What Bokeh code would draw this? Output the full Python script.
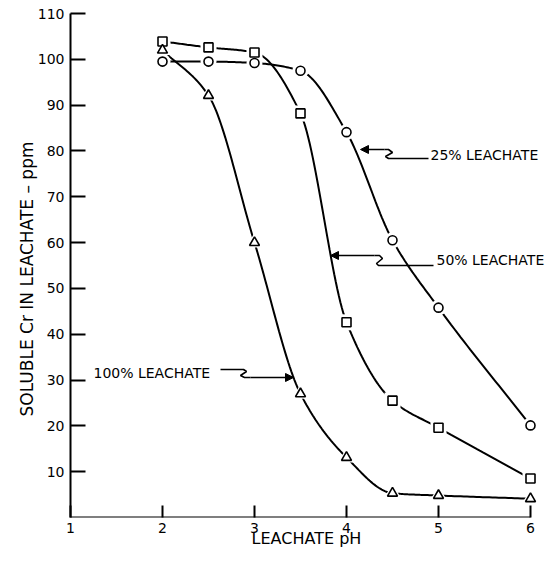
import numpy as np
from bokeh.plotting import figure
from bokeh.models import Range1d, Label, Arrow, NormalHead, FixedTicker
from bokeh.embed import file_html
from bokeh.resources import INLINE

# ---- data ----
ph = [2, 2.5, 3, 3.5, 4, 4.5, 5, 6]
cr_25 = [99.5, 99.5, 99.2, 97.5, 84.1, 60.5, 45.8, 20.1]
cr_50 = [103.9, 102.6, 101.5, 88.2, 42.6, 25.5, 19.6, 8.5]
cr_100 = [102.0, 92.1, 60.0, 27.0, 13.1, 5.3, 4.8, 4.1]
x_ticks = [1, 2, 3, 4, 5, 6]
y_ticks = [10, 20, 30, 40, 50, 60, 70, 80, 90, 100, 110]

FONT = "DejaVu Sans"
W, H = 547, 551

# pixel-to-data helpers for annotation placement (pixels of the reference picture)
def X(px):
    return 1 + (px - 70) / 92.0

def Y(py):
    return (517 - py) / 4.5818


def pchip(x, y, n=30):
    x = np.asarray(x, float)
    y = np.asarray(y, float)
    h = np.diff(x)
    d = np.diff(y) / h
    m = np.zeros_like(y)
    m[0] = d[0]
    m[-1] = d[-1]
    for k in range(1, len(x) - 1):
        if d[k - 1] * d[k] <= 0:
            m[k] = 0.0
        else:
            w1 = 2 * h[k] + h[k - 1]
            w2 = h[k] + 2 * h[k - 1]
            m[k] = (w1 + w2) / (w1 / d[k - 1] + w2 / d[k])
    xs, ys = [], []
    for k in range(len(x) - 1):
        t = np.linspace(0, 1, n, endpoint=(k == len(x) - 2))
        h00 = 2 * t**3 - 3 * t**2 + 1
        h10 = t**3 - 2 * t**2 + t
        h01 = -2 * t**3 + 3 * t**2
        h11 = t**3 - t**2
        xs.extend(x[k] + t * h[k])
        ys.extend(h00 * y[k] + h10 * h[k] * m[k] + h01 * y[k + 1] + h11 * h[k] * m[k + 1])
    return xs, ys


p = figure(
    width=W, height=H,
    x_range=Range1d(1, X(W)), y_range=Range1d(0, 110),
    min_border_left=70, min_border_right=0, min_border_top=13, min_border_bottom=34,
    output_backend="svg", toolbar_location=None,
)
p.outline_line_color = None
p.grid.visible = False
p.background_fill_color = "white"

# axes
p.xaxis.ticker = FixedTicker(ticks=x_ticks)
p.yaxis.ticker = FixedTicker(ticks=y_ticks)
for ax in (p.xaxis, p.yaxis):
    ax.major_tick_out = 0
    ax.minor_tick_in = 0
    ax.minor_tick_out = 0
    ax.major_tick_line_width = 2
    ax.major_tick_line_color = "black"
    ax.major_label_text_font = FONT
    ax.major_label_text_font_size = "14px"
    ax.major_label_text_color = "black"
    ax.axis_label_text_font = FONT
    ax.axis_label_text_font_style = "normal"
    ax.axis_label_text_color = "black"
p.yaxis.major_tick_in = 15
p.xaxis.major_tick_in = 12
p.yaxis.axis_line_width = 2
p.yaxis.axis_line_color = "black"
p.xaxis.axis_line_color = None
p.yaxis.major_label_standoff = 6
p.xaxis.major_label_standoff = 5

p.yaxis.axis_label = "SOLUBLE  Cr  IN  LEACHATE  \u2013  ppm"
p.yaxis.axis_label_text_font_size = "17px"
p.yaxis.axis_label_standoff = -2
p.xaxis.axis_label = "LEACHATE  pH"
p.xaxis.axis_label_text_font_size = "16px"
p.xaxis.axis_label_standoff = -7

# x-axis line from first to last tick
p.line([x_ticks[0], x_ticks[-1]], [0, 0], line_color="black", line_width=2)

# curves
series = [(cr_25, "circle", 9), (cr_50, "square", 9), (cr_100, "triangle", 10)]
for ys, mk, sz in series:
    cx, cy = pchip(ph, ys)
    p.line(cx, cy, line_color="black", line_width=2)
for ys, mk, sz in series:
    p.scatter(ph, ys, marker=mk, size=sz + 7, fill_color="white", line_color=None)
for ys, mk, sz in series:
    p.scatter(ph, ys, marker=mk, size=sz, fill_color="white", line_color="black", line_width=1.6)

# annotations with squiggly leaders
def leader(pts, tip):
    xs = [X(a) for a, b in pts]
    ys = [Y(b) for a, b in pts]
    p.line(xs, ys, line_color="black", line_width=1.6)
    p.add_layout(Arrow(end=NormalHead(size=8, fill_color="black", line_color="black", line_width=1),
                       x_start=xs[-1], y_start=ys[-1], x_end=X(tip[0]), y_end=Y(tip[1]),
                       line_color="black", line_width=1.6))

leader([(428, 158), (388, 158), (385, 156), (392, 152), (388, 149), (384, 149)], (360, 149))
leader([(433, 265), (378, 265), (376, 263), (382, 258), (379, 255), (374, 255)], (330, 255))
leader([(220, 369), (243, 369), (246, 371), (240, 375), (244, 377), (250, 377)], (293, 377))

ann = [("25% LEACHATE", 430, 155), ("50% LEACHATE", 436, 260), ("100% LEACHATE", 93, 373)]
for txt, px, py in ann:
    p.add_layout(Label(x=X(px), y=Y(py), text=txt, text_font=FONT, text_font_size="14px",
                       text_align="left", text_baseline="middle", text_color="black"))

open("out.html", "w").write(file_html(p, INLINE))
